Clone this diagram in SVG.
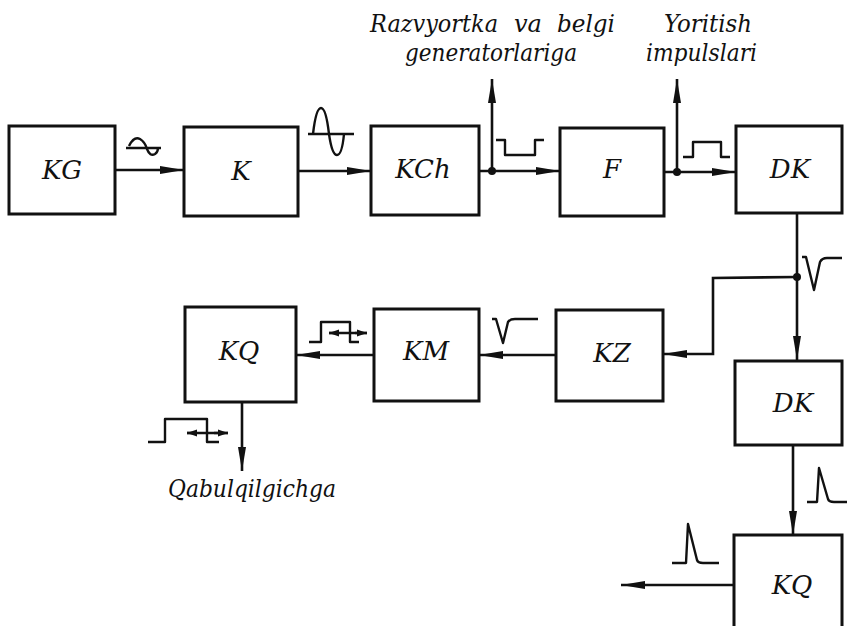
<svg xmlns="http://www.w3.org/2000/svg" width="849" height="626" viewBox="0 0 849 626">
<defs>
<marker id="ah" markerWidth="26" markerHeight="10" refX="24" refY="5" orient="auto" markerUnits="userSpaceOnUse" viewBox="0 0 26 10">
<path d="M0,1 L24,5 L0,9 Z" fill="#111"/>
</marker>
<marker id="sa" markerWidth="11" markerHeight="8" refX="10" refY="4" orient="auto" markerUnits="userSpaceOnUse" viewBox="0 0 11 8">
<path d="M0,0.5 L10,4 L0,7.5 Z" fill="#111"/>
</marker>
<style>
.box{fill:#fff;stroke:#111;stroke-width:3}
.lbl{font-family:"DejaVu Serif","Liberation Serif",serif;font-style:italic;font-size:26px;fill:#111;text-anchor:middle}
.cap{font-family:"DejaVu Serif","Liberation Serif",serif;font-style:italic;font-size:25px;fill:#111}
.arr{fill:none;stroke:#111;stroke-width:2.6;marker-end:url(#ah)}
.sig{fill:none;stroke:#111;stroke-width:2.4;stroke-linejoin:round}
.dot{fill:#111}
</style>
</defs>
<rect width="849" height="626" fill="#fff"/>

<g id="connectors">
<line class="arr" x1="115" y1="170" x2="184" y2="170"/>
<line class="arr" x1="298" y1="171" x2="371" y2="171"/>
<line class="arr" x1="479" y1="171" x2="560" y2="171"/>
<line class="arr" x1="664" y1="172" x2="736" y2="172"/>
<line class="arr" x1="492" y1="171" x2="492" y2="79"/>
<line class="arr" x1="677" y1="172" x2="677" y2="79"/>
<line class="arr" x1="797" y1="213" x2="797" y2="360"/>
<polyline class="arr" points="797,277 713,278 713,354 663,354"/>
<line class="arr" x1="556" y1="355" x2="479" y2="355"/>
<line class="arr" x1="374" y1="355" x2="296" y2="355"/>
<line class="arr" x1="242" y1="402" x2="242" y2="471"/>
<line class="arr" x1="793" y1="445" x2="793" y2="535"/>
<line class="arr" x1="734" y1="585" x2="621" y2="585"/>
<circle class="dot" cx="492" cy="171" r="4"/>
<circle class="dot" cx="677" cy="172" r="4"/>
<circle class="dot" cx="797" cy="277" r="4"/>
</g>

<g id="signals">
<line class="sig" x1="126" y1="148" x2="161" y2="148"/>
<path class="sig" d="M129,146 Q134,136 140,139 Q145,142 147,149 Q150,157 155,154 Q158,152 158,148"/>
<line class="sig" x1="308" y1="134" x2="354" y2="134"/>
<path class="sig" d="M313,134 Q316,108 321,108 Q326,108 329,134 Q332,155 337,155 Q342,155 344,134"/>
<polyline class="sig" points="496,140 505,140 505,155 535,155 535,140 544,140"/>
<polyline class="sig" points="683,157 693,157 693,142 721,142 721,157 730,157"/>
<path class="sig" d="M802,257 L806,257 L814,290 L820,262 Q822,258 827,258 L842,258"/>
<path class="sig" d="M492,319 L496,319 L503,343 L508,322 Q510,319 515,319 L538,319"/>
<polyline class="sig" points="309,342 321,342 321,322 350,322 350,342 359,342"/>
<line class="sig" x1="338" y1="333" x2="329" y2="333" marker-end="url(#sa)"/>
<line class="sig" x1="355" y1="333" x2="367" y2="333" marker-end="url(#sa)"/>
<line class="sig" x1="329" y1="333" x2="367" y2="333"/>
<polyline class="sig" points="148,442 165,442 165,419 207,419 207,442 219,442"/>
<line class="sig" x1="197" y1="433" x2="187" y2="433" marker-end="url(#sa)"/>
<line class="sig" x1="214" y1="433" x2="228" y2="433" marker-end="url(#sa)"/>
<line class="sig" x1="187" y1="433" x2="228" y2="433"/>
<path class="sig" d="M807,502 L817,502 L819,468 L828,499 Q829,502 834,502 L847,502"/>
<path class="sig" d="M672,563 L686,563 L688,524 L697,560 Q698,563 703,563 L719,563"/>
</g>

<g id="KG"><rect class="box" x="9" y="126" width="106" height="88"/><text class="lbl" x="62" y="179">KG</text></g>
<g id="K"><rect class="box" x="184" y="127" width="114" height="89"/><text class="lbl" x="241" y="180">K</text></g>
<g id="KCh"><rect class="box" x="371" y="126" width="108" height="89"/><text class="lbl" x="423" y="178">KCh</text></g>
<g id="F"><rect class="box" x="560" y="128" width="104" height="88"/><text class="lbl" x="612" y="178">F</text></g>
<g id="DK1"><rect class="box" x="736" y="126" width="106" height="87"/><text class="lbl" x="790" y="178">DK</text></g>
<g id="KZ"><rect class="box" x="556" y="310" width="107" height="91"/><text class="lbl" x="612" y="362">KZ</text></g>
<g id="KM"><rect class="box" x="374" y="309" width="105" height="92"/><text class="lbl" x="426" y="360">KM</text></g>
<g id="KQ1"><rect class="box" x="185" y="307" width="111" height="95"/><text class="lbl" x="239" y="360">KQ</text></g>
<g id="DK2"><rect class="box" x="735" y="361" width="107" height="84"/><text class="lbl" x="793" y="412">DK</text></g>
<g id="KQ2"><rect class="box" x="734" y="535" width="108" height="100"/><text class="lbl" x="792" y="594">KQ</text></g>

<g id="captions">
<text class="cap" x="370" y="32" textLength="128" lengthAdjust="spacingAndGlyphs">Razvyortka</text>
<text class="cap" x="514" y="32" textLength="28" lengthAdjust="spacingAndGlyphs">va</text>
<text class="cap" x="557" y="32" textLength="58" lengthAdjust="spacingAndGlyphs">belgi</text>
<text class="cap" x="405" y="61" textLength="172" lengthAdjust="spacingAndGlyphs">generatorlariga</text>
<text class="cap" x="664" y="32" textLength="88" lengthAdjust="spacingAndGlyphs">Yoritish</text>
<text class="cap" x="646" y="61" textLength="111" lengthAdjust="spacingAndGlyphs">impulslari</text>
<text class="cap" x="168" y="497" textLength="168" lengthAdjust="spacingAndGlyphs">Qabulqilgichga</text>
</g>
</svg>
